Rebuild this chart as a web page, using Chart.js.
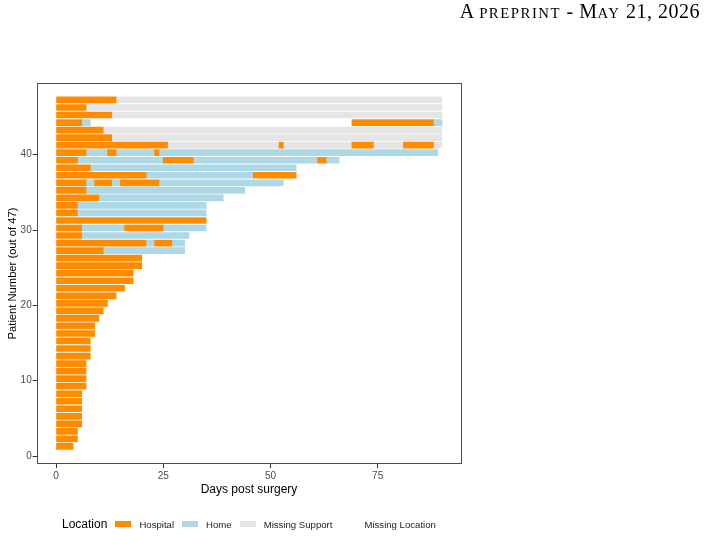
<!DOCTYPE html>
<html>
<head>
<meta charset="utf-8">
<script src="https://cdn.jsdelivr.net/npm/chart.js@4.4.0/dist/chart.umd.min.js"></script>
<style>
  body { margin: 0; background: #fff; }
  #wrap { position: relative; width: 707px; height: 536px; overflow: hidden; }
  #header {
    position: absolute; right: 7px; top: 0px;
    font-family: "Liberation Serif", "Times New Roman", serif;
    font-size: 20px; letter-spacing: 0.5px; color: #000; white-space: nowrap;
  }
  #header .sc { font-size: 14.8px; letter-spacing: 1.5px; }
  #legend {
    position: absolute; left: 62px; top: 515px; height: 18px;
    display: flex; align-items: center;
    font-family: "Liberation Sans", Arial, sans-serif; color: #222; white-space: nowrap;
  }
  #legend .title { font-size: 12px; color: #000; margin-right: 8px; }
  #legend .box { width: 16px; height: 6px; margin-right: 8px; }
  #legend .lbl { font-size: 9.6px; margin-right: 8px; }
</style>
</head>
<body>
<div id="wrap">
  <div id="header">A <span class="sc">PREPRINT</span> - M<span class="sc">AY</span> 21, 2026</div>
  <canvas id="chart" width="707" height="536"></canvas>
  <div id="legend"></div>
</div>
<script>
// segments as [patient, start day, end day]
const hospital = [
  [47, 0, 14], [46, 0, 7], [45, 0, 13],
  [44, 0, 6], [44, 69, 88],
  [43, 0, 11], [42, 0, 13],
  [41, 0, 26], [41, 52, 53], [41, 69, 74], [41, 81, 88],
  [40, 0, 7], [40, 12, 14], [40, 23, 24],
  [39, 0, 5], [39, 25, 32], [39, 61, 63],
  [38, 0, 8],
  [37, 0, 21], [37, 46, 56],
  [36, 0, 7], [36, 9, 13], [36, 15, 24],
  [35, 0, 7], [34, 0, 10], [33, 0, 5], [32, 0, 5], [31, 0, 35],
  [30, 0, 6], [30, 16, 25],
  [29, 0, 6],
  [28, 0, 21], [28, 23, 27],
  [27, 0, 11], [26, 0, 20], [25, 0, 20], [24, 0, 18], [23, 0, 18],
  [22, 0, 16], [21, 0, 14], [20, 0, 12], [19, 0, 11], [18, 0, 10],
  [17, 0, 9], [16, 0, 9], [15, 0, 8], [14, 0, 8], [13, 0, 8],
  [12, 0, 7], [11, 0, 7], [10, 0, 7], [9, 0, 7],
  [8, 0, 6], [7, 0, 6], [6, 0, 6], [5, 0, 6], [4, 0, 6],
  [3, 0, 5], [2, 0, 5], [1, 0, 4]
];
const home = [
  [44, 6, 8], [44, 88, 90],
  [40, 7, 12], [40, 14, 23], [40, 24, 89],
  [39, 5, 25], [39, 32, 61], [39, 63, 66],
  [38, 8, 56],
  [37, 21, 46],
  [36, 7, 9], [36, 13, 15], [36, 24, 53],
  [35, 7, 44], [34, 10, 39], [33, 5, 35], [32, 5, 35],
  [30, 6, 16], [30, 25, 35],
  [29, 6, 31],
  [28, 21, 23], [28, 27, 30],
  [27, 11, 30]
];
const missingSupport = [
  [47, 14, 90], [46, 7, 90], [45, 13, 90], [43, 11, 90], [42, 13, 90],
  [41, 26, 52], [41, 53, 69], [41, 74, 81], [41, 88, 90]
];
const missingLocation = [
  [44, 8, 69]
];
const xTickValues = [0, 25, 50, 75];
const yTickValues = [0, 10, 20, 30, 40];

const ROW_SHIFT = 0.27;
const tickFont = { family: "Liberation Sans, Arial, sans-serif", size: 10 };

function toPoints(segs) {
  return segs.map(function (s) { return { y: s[0] + ROW_SHIFT, x: [s[1], s[2]] }; });
}

// panel border like ggplot
const panelBorder = {
  id: "panelBorder",
  afterDraw: function (chart) {
    const a = chart.chartArea;
    const c = chart.ctx;
    c.save();
    c.strokeStyle = "#4d4d4d";
    c.lineWidth = 1;
    c.strokeRect(Math.round(a.left) + 0.5, Math.round(a.top) + 0.5,
      Math.round(a.right - a.left) - 1, Math.round(a.bottom - a.top) - 1);
    c.restore();
  }
};

const chart = new Chart(document.getElementById("chart").getContext("2d"), {
  type: "bar",
  data: {
    datasets: [
      { label: "Hospital", data: toPoints(hospital), backgroundColor: "#FF8C00" },
      { label: "Home", data: toPoints(home), backgroundColor: "#ADD8E6" },
      { label: "Missing Support", data: toPoints(missingSupport), backgroundColor: "#E5E5E5" },
      { label: "Missing Location", data: toPoints(missingLocation), backgroundColor: "#FFFFFF" }
    ]
  },
  options: {
    indexAxis: "y",
    responsive: false,
    animation: false,
    layout: { padding: { top: 83, right: 245.7, bottom: 36, left: 0 } },
    datasets: { bar: { barThickness: 6, grouped: false, borderWidth: 0 } },
    plugins: { legend: { display: false }, tooltip: { enabled: false } },
    scales: {
      x: {
        type: "linear",
        min: -4.5,
        max: 94.5,
        offset: false,
        afterBuildTicks: function (s) { s.ticks = xTickValues.map(function (v) { return { value: v }; }); },
        afterFit: function (s) { s.height = 36; },
        grid: { drawOnChartArea: false, offset: false, tickLength: 4, color: "#333" },
        border: { display: false },
        ticks: { font: tickFont, color: "#4d4d4d", padding: 2 },
        title: {
          display: true,
          text: "Days post surgery",
          color: "#000",
          font: { family: "Liberation Sans, Arial, sans-serif", size: 12 },
          padding: { top: 0, bottom: 3.5 }
        }
      },
      y: {
        type: "linear",
        min: -1.06,
        max: 49.52,
        offset: false,
        afterBuildTicks: function (s) { s.ticks = yTickValues.map(function (v) { return { value: v }; }); },
        afterFit: function (s) { s.width = 36.7; },
        grid: { drawOnChartArea: false, offset: false, tickLength: 4, color: "#333" },
        border: { display: false },
        ticks: { font: tickFont, color: "#4d4d4d", padding: 1 },
        title: {
          display: true,
          text: "Patient Number (out of 47)",
          color: "#000",
          font: { family: "Liberation Sans, Arial, sans-serif", size: 11.2 },
          padding: { top: 6, bottom: 0 }
        }
      }
    }
  },
  plugins: [panelBorder]
});

// legend built from the datasets
const legend = document.getElementById("legend");
const t = document.createElement("span");
t.className = "title";
t.textContent = "Location";
legend.appendChild(t);
chart.data.datasets.forEach(function (ds) {
  const b = document.createElement("span");
  b.className = "box";
  b.style.background = ds.backgroundColor;
  legend.appendChild(b);
  const l = document.createElement("span");
  l.className = "lbl";
  l.textContent = ds.label;
  legend.appendChild(l);
});
</script>
</body>
</html>
